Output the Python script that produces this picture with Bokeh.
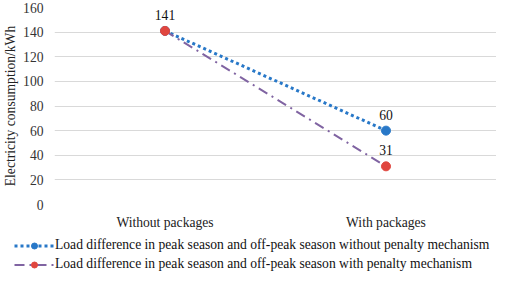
from bokeh.plotting import figure
from bokeh.layouts import column
from bokeh.models import FactorRange, Legend, LegendItem, ColumnDataSource, FixedTicker
from bokeh.core.properties import value
from bokeh.embed import file_html
from bokeh.resources import INLINE

categories = ["Without packages", "With packages"]
no_penalty = [141, 60]
with_penalty = [141, 31]
y_ticks = [0, 20, 40, 60, 80, 100, 120, 140, 160]
series_names = [
    "Load difference in peak season and off-peak season without penalty mechanism",
    "Load difference in peak season and off-peak season with penalty mechanism",
]

FONT = "Liberation Serif"
FS = "13.6px"
BLUE = "#2878C8"
PURPLE = "#8064A2"
RED = "#E0463F"

p = figure(width=496, height=232, x_range=FactorRange(*categories, range_padding=0),
           y_range=(0, 160), output_backend="svg", toolbar_location=None,
           min_border_top=7, min_border_right=0, min_border_left=0, min_border_bottom=0)
p.frame_align = False
p.outline_line_color = None
p.background_fill_color = "white"

src1 = ColumnDataSource(dict(x=categories, y=no_penalty))
src2 = ColumnDataSource(dict(x=categories, y=with_penalty))

line_kw1 = dict(color=BLUE, line_width=3, line_dash="3 3")
line_kw2 = dict(color=PURPLE, line_width=2, line_dash="10 5 2 5")
p.line("x", "y", source=src1, **line_kw1)
p.scatter("x", "y", source=src1, size=9, color=BLUE)
p.line("x", "y", source=src2, **line_kw2)
p.scatter("x", "y", source=src2, size=9, color=RED)

lab1 = ColumnDataSource(dict(x=[categories[1]], y=[no_penalty[1]], t=[str(no_penalty[1])]))
lab2 = ColumnDataSource(dict(x=categories, y=with_penalty, t=[str(v) for v in with_penalty]))
for s in (lab1, lab2):
    p.text("x", "y", text="t", source=s, y_offset=-16, text_align="center",
           text_baseline="middle", text_font=value(FONT), text_font_size=FS,
           text_color="#111111")

p.yaxis.ticker = FixedTicker(ticks=y_ticks)
p.yaxis.axis_label = "Electricity consumption/kWh"
p.yaxis.axis_label_text_font = FONT
p.yaxis.axis_label_text_font_style = "normal"
p.yaxis.axis_label_text_font_size = FS
p.yaxis.axis_label_text_color = "#222222"
p.yaxis.axis_label_standoff = 2
p.yaxis.major_label_text_font = FONT
p.yaxis.major_label_text_font_size = FS
p.yaxis.major_label_text_color = "#333333"
p.yaxis.major_label_standoff = 5
p.yaxis.axis_line_color = None
p.yaxis.major_tick_line_color = None
p.yaxis.minor_tick_line_color = None

p.xaxis.major_label_text_font = FONT
p.xaxis.major_label_text_font_size = FS
p.xaxis.major_label_text_color = "#222222"
p.xaxis.major_label_standoff = 4
p.xaxis.axis_line_color = None
p.xaxis.major_tick_line_color = None
p.xaxis.minor_tick_line_color = None

p.xgrid.grid_line_color = None
p.ygrid.grid_line_color = "#D9D9D9"
p.ygrid.grid_line_width = 1

# legend panel below the chart (renderers hidden; only their legend glyphs show)
q = figure(width=496, height=40, x_range=FactorRange(*categories), y_range=(0, 160),
           output_backend="svg", toolbar_location=None, min_border=0,
           x_axis_location=None, y_axis_location=None)
q.frame_align = False
q.grid.grid_line_color = None
q.outline_line_color = None
ql1 = q.line("x", "y", source=src1, **line_kw1)
qs1 = q.scatter("x", "y", source=src1, size=9, color=BLUE)
ql2 = q.line("x", "y", source=src2, **line_kw2)
qs2 = q.scatter("x", "y", source=src2, size=9, color=RED)
for r in (ql1, qs1, ql2, qs2):
    r.visible = False

legend = Legend(items=[LegendItem(label=series_names[0], renderers=[ql1, qs1]),
                       LegendItem(label=series_names[1], renderers=[ql2, qs2])],
                orientation="vertical", location=(14, 0))
legend.label_text_font = FONT
legend.label_text_font_size = FS
legend.label_text_color = "#111111"
legend.glyph_width = 40
legend.glyph_height = 15
legend.label_standoff = 1
legend.spacing = 3
legend.padding = 0
legend.margin = 0
legend.border_line_color = None
legend.background_fill_alpha = 0
legend.inactive_fill_alpha = 0
legend.label_height = 15
q.add_layout(legend, "center")

open("out.html", "w").write(file_html(column(p, q, spacing=0), INLINE))
